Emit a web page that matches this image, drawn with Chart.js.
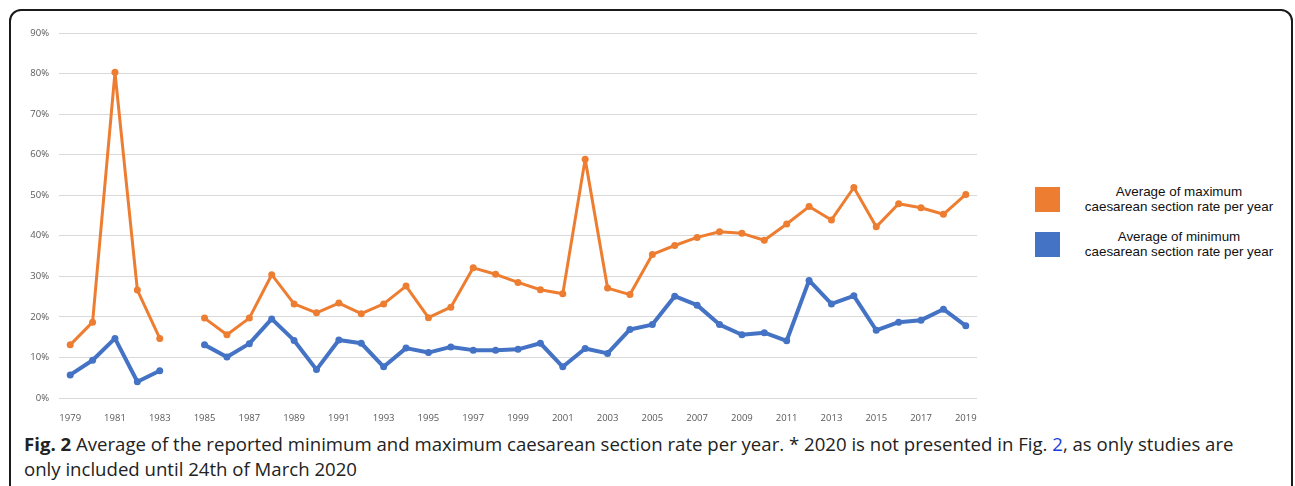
<!DOCTYPE html>
<html>
<head>
<meta charset="utf-8">
<script src="https://cdn.jsdelivr.net/npm/chart.js@4.4.1/dist/chart.umd.min.js"></script>
<style>
  html, body { margin: 0; padding: 0; background: #fff; }
  body { width: 1295px; height: 486px; position: relative; overflow: hidden; font-family: "Open Sans", "Noto Sans", sans-serif; }
  .frame { position: absolute; left: 9px; top: 9px; width: 1284px; height: 520px; box-sizing: border-box; border: 2px solid #1a1a1a; border-radius: 12px; }
  .wrap { position: absolute; left: 0; top: 0; width: 1000px; height: 425px; }
  .legend { position: absolute; left: 1035px; font-family: "Liberation Sans", Arial, sans-serif; font-size: 13.4px; line-height: 15px; color: #111; }
  .legend .item { position: absolute; left: 0; width: 255px; height: 26px; }
  .legend .sw { position: absolute; left: 0; top: 0; width: 25px; height: 25px; }
  .legend .txt { position: absolute; left: 45px; top: -3px; width: 198px; text-align: center; white-space: nowrap; }
  .caption { position: absolute; left: 24px; top: 431px; font-size: 18.6px; line-height: 25px; color: #222; white-space: nowrap; }
  .caption b { font-weight: 700; }
  .caption a { color: #1a3fd8; text-decoration: none; }
</style>
</head>
<body>
<div class="frame"></div>
<div class="wrap"><canvas id="csChart"></canvas></div>
<div class="legend">
  <div class="item" style="top:187px"><div class="sw" style="background:#ED7D31"></div><div class="txt">Average of maximum<br>caesarean section rate per year</div></div>
  <div class="item" style="top:232px"><div class="sw" style="background:#4472C4"></div><div class="txt">Average of minimum<br>caesarean section rate per year</div></div>
</div>
<div class="caption"><b>Fig. 2</b> Average of the reported minimum and maximum caesarean section rate per year. * 2020 is not presented in Fig. <a>2</a>, as only studies are<br>only included until 24th of March 2020</div>
<script>
// years 1979-2019, 1984 has no data
const years = ['1979', '1980', '1981', '1982', '1983', '1984', '1985', '1986', '1987', '1988',
    '1989', '1990', '1991', '1992', '1993', '1994', '1995', '1996', '1997', '1998',
    '1999', '2000', '2001', '2002', '2003', '2004', '2005', '2006', '2007', '2008',
    '2009', '2010', '2011', '2012', '2013', '2014', '2015', '2016', '2017', '2018', '2019'];

const maxRate = [13.1, 18.7, 80.3, 26.6, 14.7, null, 19.7, 15.6, 19.7, 30.4,
    23.2, 21.0, 23.4, 20.8, 23.2, 27.6, 19.8, 22.4, 32.1, 30.5,
    28.5, 26.7, 25.7, 58.9, 27.1, 25.5, 35.4, 37.6, 39.6, 41.0,
    40.6, 38.9, 42.9, 47.2, 43.9, 51.9, 42.2, 47.9, 46.9, 45.3, 50.2];

const minRate = [5.7, 9.3, 14.7, 4.0, 6.7, null, 13.1, 10.1, 13.4, 19.5,
    14.2, 7.0, 14.3, 13.5, 7.7, 12.3, 11.2, 12.6, 11.8, 11.8,
    12.0, 13.5, 7.7, 12.2, 11.0, 16.9, 18.1, 25.1, 22.9, 18.1,
    15.6, 16.1, 14.1, 29.0, 23.2, 25.2, 16.7, 18.7, 19.2, 21.9, 17.8];

const yTicks = [0, 10, 20, 30, 40, 50, 60, 70, 80, 90];

const ctx = document.getElementById('csChart').getContext('2d');
new Chart(ctx, {
    type: 'line',
    data: {
        labels: years,
        datasets: [{
            label: 'Average of maximum caesarean section rate per year',
            data: maxRate,
            borderColor: '#ED7D31',
            backgroundColor: '#ED7D31',
            pointBackgroundColor: '#ED7D31',
            borderWidth: 3,
            borderJoinStyle: 'round',
            pointRadius: 3.5,
            pointBorderWidth: 0,
            tension: 0,
            spanGaps: false
        }, {
            label: 'Average of minimum caesarean section rate per year',
            data: minRate,
            borderColor: '#4472C4',
            backgroundColor: '#4472C4',
            pointBackgroundColor: '#4472C4',
            borderWidth: 4,
            borderJoinStyle: 'round',
            pointRadius: 3.5,
            pointBorderWidth: 0,
            tension: 0,
            spanGaps: false
        }]
    },
    options: {
        responsive: true,
        maintainAspectRatio: false,
        animation: false,
        layout: {
            padding: { top: 33, right: 23, bottom: 0, left: 0 }
        },
        plugins: {
            legend: { display: false },
            tooltip: { enabled: false }
        },
        scales: {
            x: {
                offset: true,
                grid: { display: false },
                border: { display: false },
                afterFit: function(scale) { scale.height = 27; },
                ticks: {
                    autoSkip: false,
                    maxRotation: 0,
                    padding: 7,
                    color: '#595959',
                    font: { family: 'Open Sans', size: 9.5 },
                    callback: function(val, i) { return i % 2 === 0 ? years[i] : ''; }
                }
            },
            y: {
                min: 0,
                max: 90,
                afterFit: function(scale) { scale.width = 59; },
                afterBuildTicks: function(scale) { scale.ticks = yTicks.map(v => ({ value: v })); },
                border: { display: false },
                grid: { color: '#d9d9d9', lineWidth: 1, drawTicks: false },
                ticks: {
                    padding: 10,
                    color: '#595959',
                    font: { family: 'Open Sans', size: 9.5 },
                    callback: function(v) { return v + '%'; }
                }
            }
        }
    }
});
</script>
</body>
</html>
